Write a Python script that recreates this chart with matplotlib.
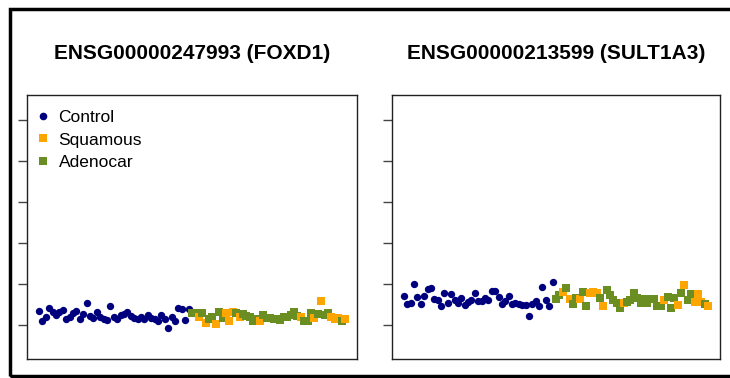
import numpy as np
import matplotlib
matplotlib.use("Agg")
import matplotlib.pyplot as plt
from matplotlib.lines import Line2D
from matplotlib.patches import Rectangle

plt.rcParams["font.family"] = ["Liberation Sans", "DejaVu Sans"]

# sample groups: 45 controls followed by 46 tumours (S = squamous, A = adenocarcinoma)
n_control = 45
tumour_type = list("AASASAASAASSSASAAAAASAAAAAAAAAAASAAASASAASSSAS")

titles = ["ENSG00000247993 (FOXD1)", "ENSG00000213599 (SULT1A3)"]

# log2 expression per sample, controls first
foxd1_control = [4.70, 4.18, 4.37, 4.85, 4.62, 4.49, 4.62, 4.73, 4.31, 4.41,
                 4.57, 4.70, 4.28, 4.52, 5.06, 4.46, 4.36, 4.63, 4.37, 4.28,
                 4.24, 4.93, 4.37, 4.28, 4.47, 4.54, 4.63, 4.44, 4.36, 4.31,
                 4.37, 4.28, 4.50, 4.34, 4.28, 4.18, 4.49, 4.31, 3.85, 4.41,
                 4.21, 4.85, 4.80, 4.24, 4.80]
foxd1_tumour = [4.60, 4.57, 4.41, 4.57, 4.08, 4.28, 4.37, 4.05, 4.63, 4.33,
                4.57, 4.21, 4.63, 4.57, 4.41, 4.52, 4.44, 4.37, 4.21, 4.28,
                4.21, 4.49, 4.33, 4.33, 4.28, 4.28, 4.24, 4.37, 4.41, 4.49,
                4.65, 4.44, 4.41, 4.21, 4.21, 4.57, 4.33, 4.54, 5.19, 4.49,
                4.60, 4.41, 4.28, 4.33, 4.21, 4.31]

sult1a3_control = [5.41, 5.01, 5.06, 5.98, 5.35, 5.01, 5.41, 5.76, 5.80, 5.28,
                   5.24, 4.93, 5.54, 5.09, 5.50, 5.20, 5.07, 5.32, 4.99, 5.14,
                   5.24, 5.54, 5.15, 5.19, 5.32, 5.20, 5.67, 5.66, 5.35, 5.01,
                   5.15, 5.41, 5.01, 5.06, 5.02, 4.98, 4.96, 4.44, 5.04, 5.19,
                   4.93, 5.85, 5.24, 4.93, 6.11]
sult1a3_tumour = [5.27, 5.46, 5.61, 5.79, 5.28, 5.02, 5.30, 5.28, 5.59, 4.94,
                  5.54, 5.61, 5.58, 5.30, 4.91, 5.72, 5.46, 5.22, 5.09, 4.83,
                  5.06, 5.14, 5.22, 5.54, 5.30, 5.09, 5.28, 5.09, 5.27, 5.28,
                  4.94, 4.94, 5.22, 5.37, 4.85, 5.30, 4.99, 5.58, 5.93, 5.22,
                  5.53, 5.11, 5.50, 5.11, 5.02, 4.94]

y_ticks = [4, 6, 8, 10, 12, 14]

col = {"C": "#00007f", "S": "#ffa500", "A": "#6b8e23"}
groups = ["C"] * n_control + tumour_type


def expr_plot(ax, values, title):
    x = np.arange(1, len(values) + 1)
    for xi, yi, g in zip(x, values, groups):
        if g == "C":
            ax.scatter(xi, yi, s=28, marker="o", color=col[g], linewidths=0)
        else:
            ax.scatter(xi, yi, s=36, marker="s", color=col[g], linewidths=0)
    n = len(values)
    pad = 0.039 * (n - 1)
    ax.set_xlim(1 - pad, n + pad)
    ax.set_ylim(2.34, 15.22)
    ax.set_xticks([])
    ax.set_yticks(y_ticks)
    ax.set_yticklabels([])
    ax.tick_params(axis="y", length=6.5, width=1, color="#444444", direction="out")
    for s in ax.spines.values():
        s.set_color("#222222")
        s.set_linewidth(1)
    ax.set_title(title, fontsize=15, fontweight="bold", pad=26)


fig = plt.figure(figsize=(7.3, 3.78), dpi=100)
ax1 = fig.add_axes([27 / 730, 1 - 359 / 378, 330 / 730, 264 / 378])
ax2 = fig.add_axes([392 / 730, 1 - 359 / 378, 328 / 730, 264 / 378])

expr_plot(ax1, foxd1_control + foxd1_tumour, titles[0])
expr_plot(ax2, sult1a3_control + sult1a3_tumour, titles[1])

handles = [
    Line2D([], [], marker="o", ls="", color=col["C"], markersize=5.5, markeredgewidth=0),
    Line2D([], [], marker="s", ls="", color=col["S"], markersize=6, markeredgewidth=0),
    Line2D([], [], marker="s", ls="", color=col["A"], markersize=6, markeredgewidth=0),
]
ax1.legend(handles, ["Control", "Squamous", "Adenocar"], loc="upper left",
           bbox_to_anchor=(-0.015, 0.99), frameon=False, fontsize=12.5,
           handlelength=1.0, handletextpad=0.4, labelspacing=0.43,
           borderaxespad=0.3)

# outer frame (right edge runs off the figure)
fig.patches.append(Rectangle((9.5 / 730, 1 - 376 / 378), 740 / 730, 367 / 378,
                             transform=fig.transFigure, fill=False,
                             edgecolor="black", linewidth=2.5))

fig.savefig("out.png", dpi=100)
